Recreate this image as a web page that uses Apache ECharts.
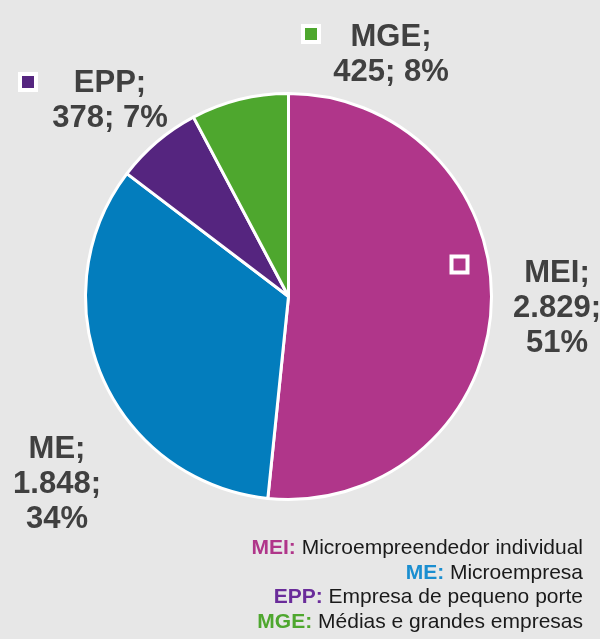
<!DOCTYPE html>
<html>
<head>
<meta charset="utf-8">
<script src="https://cdn.jsdelivr.net/npm/echarts@6/dist/echarts.min.js"></script>
<style>
html,body{margin:0;padding:0;background:#e7e7e7;}
#c{width:600px;height:639px;}
</style>
</head>
<body>
<div id="c"></div>
<script>
// Data
var categories = ['MEI', 'ME', 'EPP', 'MGE'];
var values = [2829, 1848, 378, 425];
var percents = [51, 34, 7, 8];
var valueLabels = ['2.829', '1.848', '378', '425'];
var descriptions = ['Microempreendedor individual', 'Microempresa', 'Empresa de pequeno porte', 'Médias e grandes empresas'];

// Styling
var sliceColors = ['#b0368a', '#037dbd', '#55257f', '#4ea72e'];
var legendColors = ['#b0368a', '#1a8ed0', '#6a2c9a', '#4ea72e'];
var labelPos = [[557, 308], [57, 484], [110, 101], [391, 55]];
var threeLine = [true, true, false, false];
var markerPos = [[459.5, 264.5], null, [28, 82], [311, 34]];

var chart = echarts.init(document.getElementById('c'));

var pieData = categories.map(function(c, i){
  return { name: c, value: values[i], itemStyle: { color: sliceColors[i] } };
});

var rich = { t: { fontSize: 21, lineHeight: 24.5, fill: '#1a1a1a', fontWeight: 'normal', fontFamily: 'Liberation Sans' } };
var legendLines = categories.map(function(c, i){
  rich['k' + i] = { fontSize: 21, lineHeight: 24.5, fill: legendColors[i], fontWeight: 'bold', fontFamily: 'Liberation Sans' };
  return '{k' + i + '|' + c + ':}{t| ' + descriptions[i] + '}';
});

var graphics = [];
markerPos.forEach(function(p, i){
  if (!p) return;
  graphics.push({
    type: 'rect',
    shape: { x: p[0] - 8, y: p[1] - 8, width: 16, height: 16 },
    style: { fill: sliceColors[i], stroke: '#ffffff', lineWidth: 4 },
    z: 10
  });
});
graphics.push({
  type: 'text',
  x: 583,
  y: 536,
  style: {
    text: legendLines.join('\n'),
    rich: rich,
    align: 'right',
    verticalAlign: 'top',
    fontSize: 21,
    lineHeight: 24.5,
    fill: '#1a1a1a',
    fontFamily: 'Liberation Sans'
  },
  z: 10
});

chart.setOption({
  backgroundColor: '#e7e7e7',
  animation: false,
  graphic: graphics,
  series: [{
    type: 'pie',
    center: [288.5, 296.5],
    radius: [0, 203],
    startAngle: 90,
    clockwise: true,
    data: pieData,
    itemStyle: { borderColor: '#ffffff', borderWidth: 3 },
    label: {
      show: true,
      position: 'outside',
      overflow: 'none',
      formatter: function(p){
        var i = p.dataIndex;
        return categories[i] + ';\n' + valueLabels[i] + ';' + (threeLine[i] ? '\n' : ' ') + percents[i] + '%';
      },
      fontFamily: 'Liberation Sans',
      fontWeight: 'bold',
      fontSize: 31,
      lineHeight: 35,
      color: '#404040',
      align: 'center'
    },
    labelLine: { show: false },
    labelLayout: function(params){
      var p = labelPos[params.dataIndex];
      return { x: p[0], y: p[1], align: 'center', verticalAlign: 'middle' };
    },
    emphasis: { disabled: true }
  }]
});
</script>
</body>
</html>
